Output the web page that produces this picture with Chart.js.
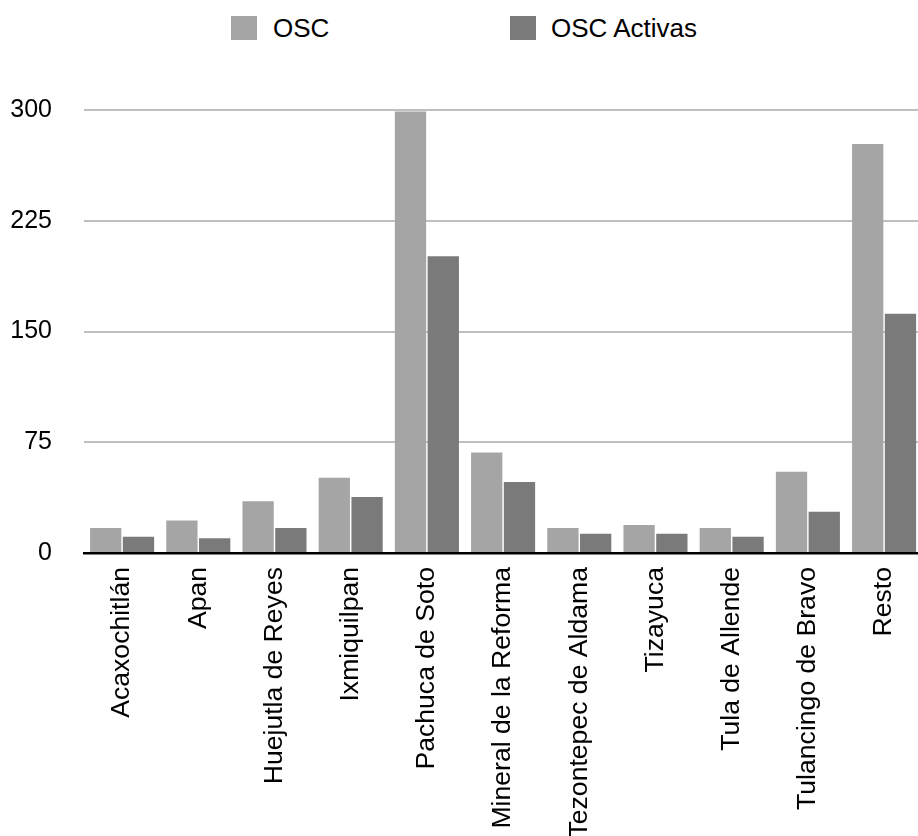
<!DOCTYPE html>
<html>
<head>
<meta charset="utf-8">
<script src="https://cdn.jsdelivr.net/npm/chart.js@4/dist/chart.umd.min.js"></script>
<style>
  html, body { margin: 0; padding: 0; background: #fff; overflow: hidden; width: 918px; height: 836px; }
  #wrap { position: relative; width: 918px; height: 836px; overflow: hidden; }
  canvas { position: absolute; left: 0; top: 0; }
  .lg { position: absolute; top: 14px; font-family: "Liberation Sans", Arial, Helvetica, sans-serif; font-size: 26px; color: #000; line-height: 28px; white-space: nowrap; }
  .sw { position: absolute; top: 16px; width: 26px; height: 24px; }
</style>
</head>
<body>
<div id="wrap">
  <div class="sw" id="sw0" style="left:231px;"></div>
  <div class="lg" id="lg0" style="left:273px;"></div>
  <div class="sw" id="sw1" style="left:510px;"></div>
  <div class="lg" id="lg1" style="left:551px;"></div>
  <canvas id="c" width="930" height="836" style="width:930px;height:836px;"></canvas>
</div>
<script>
const categories = ["Acaxochitlán", "Apan", "Huejutla de Reyes", "Ixmiquilpan", "Pachuca de Soto", "Mineral de la Reforma", "Tezontepec de Aldama", "Tizayuca", "Tula de Allende", "Tulancingo de Bravo", "Resto"];
const seriesNames = ["OSC", "OSC Activas"];
const osc = [17, 22, 35, 51, 299, 68, 17, 19, 17, 55, 277];
const oscActivas = [11, 10, 17, 38, 201, 48, 13, 13, 11, 28, 162];
const yTicks = [0, 75, 150, 225, 300];
const colors = ["#a5a5a5", "#7a7a7a"];

document.getElementById('sw0').style.background = colors[0];
document.getElementById('sw1').style.background = colors[1];
document.getElementById('lg0').textContent = seriesNames[0];
document.getElementById('lg1').textContent = seriesNames[1];

const FONT = '"Liberation Sans", Arial, Helvetica, sans-serif';

new Chart(document.getElementById('c'), {
  type: 'bar',
  data: {
    labels: categories,
    datasets: [
      { label: seriesNames[0], data: osc, backgroundColor: colors[0], borderWidth: 0 },
      { label: seriesNames[1], data: oscActivas, backgroundColor: colors[1], borderWidth: 0 }
    ]
  },
  options: {
    responsive: false,
    animation: false,
    devicePixelRatio: 1,
    layout: { padding: { top: 110, left: 0, right: 0, bottom: 0 } },
    datasets: { bar: { categoryPercentage: 0.86, barPercentage: 0.955 } },
    plugins: { legend: { display: false }, tooltip: { enabled: false } },
    scales: {
      x: {
        grid: { display: false, drawTicks: false },
        border: { display: true, color: '#000', width: 2.5 },
        ticks: {
          color: '#000',
          font: { family: FONT, size: 26.6 },
          minRotation: 90, maxRotation: 90,
          autoSkip: false,
          padding: 14
        },
        afterFit: (s) => { s.height = 836 - 110 - 443; }
      },
      y: {
        min: 0, max: 300,
        afterBuildTicks: (s) => { s.ticks = yTicks.map(v => ({ value: v })); },
        grid: { color: '#bfbfbf', lineWidth: 2, drawTicks: false },
        border: { display: false },
        ticks: {
          color: '#000',
          font: { family: FONT, size: 25 },
          padding: 32
        },
        afterFit: (s) => { s.width = 84; }
      }
    }
  }
});
</script>
</body>
</html>
